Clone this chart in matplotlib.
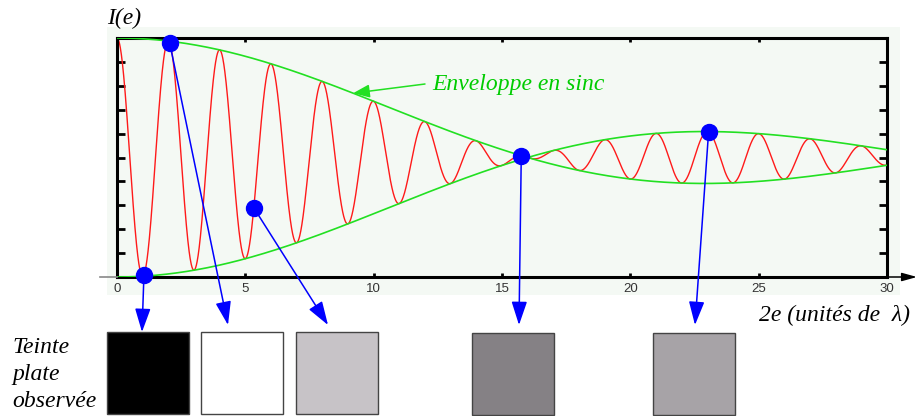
import numpy as np
import matplotlib
matplotlib.use("Agg")
import matplotlib.pyplot as plt
from matplotlib.patches import Rectangle

# Interference pattern: fringes modulated by a sinc envelope
fringe_period = 2.0        # spacing of the fringes along 2e
envelope_zero = 16.0       # first zero of the sinc envelope
x_min, x_max = 0.0, 30.0
x_ticks = [0, 5, 10, 15, 20, 25, 30]
y_ticks = [0.0, 0.2, 0.4, 0.6, 0.8, 1.0, 1.2, 1.4, 1.6, 1.8, 2.0]

# Observation points and the flat tint seen at each of them
sample_x = [1.05, 2.05, 5.33, 15.75, 23.05]
sample_on_envelope = [False, False, False, False, True]
tint_colors = ["#000000", "#ffffff", "#c7c3c7", "#858185", "#a7a3a7"]
# box left/top corners (pixels) and arrow tip for each tint
tint_boxes = [(107, 332), (201, 332), (296, 332), (472, 333), (653, 333)]
arrow_tips = [(142, 332), (228, 325), (328, 325), (519, 325), (695, 325)]
box_size = (82, 82)

W, H = 917, 416
BG = "#f4f9f4"
RED = "#ff1a1a"
GREEN = "#22e022"
BLUE = "#0000ff"
SERIF = ["Liberation Serif", "DejaVu Serif"]


def envelope(x):
    return np.sinc(np.asarray(x) / envelope_zero)


def intensity(x):
    x = np.asarray(x)
    return 1.0 + envelope(x) * np.cos(2 * np.pi * x / fringe_period)


fig = plt.figure(figsize=(W / 100, H / 100), dpi=100)

# pale panel behind the plot
bg = fig.add_axes([0, 0, 1, 1], zorder=0)
bg.set_xlim(0, W)
bg.set_ylim(H, 0)
bg.axis("off")
bg.add_patch(Rectangle((107, 27), 793, 268, color=BG, lw=0))

ax = fig.add_axes([117 / W, (H - 277) / H, 770 / W, 239 / H], zorder=1)
ax.set_facecolor(BG)
ax.set_xlim(x_min, x_max)
ax.set_ylim(0, 2)

x = np.linspace(x_min, x_max, 3000)
ax.plot(x, intensity(x), color=RED, lw=1.0, zorder=2)
ax.plot(x, 1 + envelope(x), color=GREEN, lw=1.2, zorder=3)
ax.plot(x, 1 - envelope(x), color=GREEN, lw=1.2, zorder=3)

for s in ax.spines.values():
    s.set_linewidth(2.2)
    s.set_color("black")

ax.set_xticks(x_ticks)
ax.set_xticklabels([str(t) for t in x_ticks], fontfamily="Liberation Sans",
                   fontsize=9.5, color="#333333")
ax.set_yticks(y_ticks)
ax.set_yticklabels([])
ax.tick_params(axis="x", direction="in", length=3, width=2, top=True,
               bottom=True, pad=4)
ax.tick_params(axis="y", direction="in", length=6, width=2, left=True,
               right=True)

# observation dots (the last one sits on the upper edge of the envelope)
sample_y = [1 + abs(float(envelope(sx))) if on_env else float(intensity(sx))
            for sx, on_env in zip(sample_x, sample_on_envelope)]
ax.plot(sample_x, sample_y, "o", color=BLUE, ms=11.5, mec=BLUE,
        clip_on=False, zorder=6)

# overlay for arrows, boxes and labels
fg = fig.add_axes([0, 0, 1, 1], zorder=2)
fg.set_xlim(0, W)
fg.set_ylim(H, 0)
fg.patch.set_alpha(0)
fg.axis("off")

# horizontal axis line with arrow
fg.plot([100, 117], [277, 277], color="#888888", lw=1.2)
fg.annotate("", xy=(917, 277), xytext=(886, 277),
            arrowprops=dict(arrowstyle="-|>,head_length=0.9,head_width=0.25",
                            color="black", lw=1.1, shrinkA=0, shrinkB=0,
                            mutation_scale=10), annotation_clip=False)

for sx, sy, tip in zip(sample_x, sample_y, arrow_tips):
    fg.annotate("", xy=tip, xycoords="data", xytext=(sx, sy),
                textcoords=ax.transData,
                arrowprops=dict(arrowstyle="-|>,head_length=1.45,head_width=0.48",
                                color=BLUE, lw=1.1, shrinkA=0, shrinkB=0,
                                mutation_scale=10),
                annotation_clip=False)

for (bx, by), c in zip(tint_boxes, tint_colors):
    fg.add_patch(Rectangle((bx, by), box_size[0], box_size[1], facecolor=c,
                           edgecolor="#444444", lw=1.0))

# envelope label with pointer
fg.annotate("", xy=(9.2, 1 + float(envelope(9.2))), xycoords=ax.transData,
            xytext=(425, 84), textcoords="data",
            arrowprops=dict(arrowstyle="-|>,head_length=1.0,head_width=0.4",
                            color=GREEN, lw=1.1, shrinkA=0, shrinkB=0,
                            mutation_scale=10), annotation_clip=False)
fg.text(432, 90, "Enveloppe en sinc", color="#00cc00", fontfamily=SERIF,
        style="italic", fontsize=17, va="baseline", ha="left")

fg.text(107, 24, "I(e)", fontfamily=SERIF, style="italic", fontsize=17,
        va="baseline", ha="left")
fg.text(910, 321, "2e (unités de  λ)", fontfamily=SERIF, style="italic",
        fontsize=17, va="baseline", ha="right")
for i, word in enumerate(["Teinte", "plate", "observée"]):
    fg.text(12, 353 + 27 * i, word, fontfamily=SERIF, style="italic",
            fontsize=17, va="baseline", ha="left")

fig.savefig("out.png", dpi=100)
